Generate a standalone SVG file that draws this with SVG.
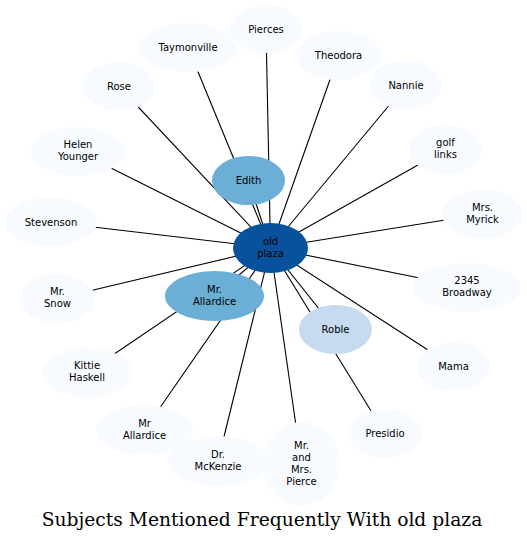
<svg xmlns="http://www.w3.org/2000/svg" width="527" height="542" viewBox="0 0 527 542">
<style>
.e{stroke:#000;stroke-width:1.1;fill:none}
.n{fill:#f7fbff}
.l{font-family:"DejaVu Sans",sans-serif;font-size:10px;fill:#000;text-anchor:middle}
.t{font-family:"DejaVu Serif",serif;font-size:18.7px;fill:#000;text-anchor:middle}
</style>
<rect width="527" height="542" fill="#fff"/>
<g id="edges">
<line class="e" x1="270.5" y1="248" x2="266" y2="29"/>
<line class="e" x1="270.5" y1="248" x2="188" y2="47.5"/>
<line class="e" x1="270.5" y1="248" x2="338.5" y2="55.5"/>
<line class="e" x1="270.5" y1="248" x2="119" y2="86.5"/>
<line class="e" x1="270.5" y1="248" x2="406" y2="85"/>
<line class="e" x1="270.5" y1="248" x2="78" y2="151.5"/>
<line class="e" x1="270.5" y1="248" x2="445.5" y2="149.5"/>
<line class="e" x1="270.5" y1="248" x2="51" y2="222"/>
<line class="e" x1="270.5" y1="248" x2="482.5" y2="214"/>
<line class="e" x1="270.5" y1="248" x2="57.5" y2="298.5"/>
<line class="e" x1="270.5" y1="248" x2="467" y2="287.5"/>
<line class="e" x1="270.5" y1="248" x2="87" y2="372.5"/>
<line class="e" x1="270.5" y1="248" x2="453.5" y2="366.5"/>
<line class="e" x1="270.5" y1="248" x2="144.5" y2="430"/>
<line class="e" x1="270.5" y1="248" x2="385" y2="433.5"/>
<line class="e" x1="270.5" y1="248" x2="218" y2="461"/>
<line class="e" x1="270.5" y1="248" x2="301.5" y2="464"/>
<line class="e" x1="270.5" y1="248" x2="248.5" y2="180.5"/>
<line class="e" x1="270.5" y1="248" x2="214.5" y2="296"/>
<line class="e" x1="270.5" y1="248" x2="335.5" y2="329.5"/>
</g>
<g id="n-pierces"><ellipse class="n" cx="266" cy="29" rx="36" ry="24"/><text class="l" x="266" y="32.5">Pierces</text></g>
<g id="n-taymonville"><ellipse class="n" cx="188" cy="47.5" rx="49" ry="24.5"/><text class="l" x="188" y="51">Taymonville</text></g>
<g id="n-theodora"><ellipse class="n" cx="338.5" cy="55.5" rx="42.5" ry="24.5"/><text class="l" x="338.5" y="59">Theodora</text></g>
<g id="n-rose"><ellipse class="n" cx="119" cy="86.5" rx="36" ry="24.5"/><text class="l" x="119" y="90">Rose</text></g>
<g id="n-nannie"><ellipse class="n" cx="406" cy="85" rx="36" ry="24.5"/><text class="l" x="406" y="88.5">Nannie</text></g>
<g id="n-helen"><ellipse class="n" cx="78" cy="151.5" rx="47" ry="24.5"/><text class="l" x="78" y="148">Helen</text><text class="l" x="78" y="160">Younger</text></g>
<g id="n-golf"><ellipse class="n" cx="445.5" cy="149.5" rx="36.5" ry="24.5"/><text class="l" x="445.5" y="146">golf</text><text class="l" x="445.5" y="158">links</text></g>
<g id="n-stevenson"><ellipse class="n" cx="51" cy="222" rx="46" ry="24.5"/><text class="l" x="51" y="225.5">Stevenson</text></g>
<g id="n-myrick"><ellipse class="n" cx="482.5" cy="214" rx="40.5" ry="24.5"/><text class="l" x="482.5" y="210.5">Mrs.</text><text class="l" x="482.5" y="222.5">Myrick</text></g>
<g id="n-snow"><ellipse class="n" cx="57.5" cy="298.5" rx="37.5" ry="24.5"/><text class="l" x="57.5" y="295">Mr.</text><text class="l" x="57.5" y="307">Snow</text></g>
<g id="n-broadway"><ellipse class="n" cx="467" cy="287.5" rx="54" ry="24.5"/><text class="l" x="467" y="284">2345</text><text class="l" x="467" y="296">Broadway</text></g>
<g id="n-kittie"><ellipse class="n" cx="87" cy="372.5" rx="45" ry="24.5"/><text class="l" x="87" y="369">Kittie</text><text class="l" x="87" y="381">Haskell</text></g>
<g id="n-mama"><ellipse class="n" cx="453.5" cy="366.5" rx="36.5" ry="24.5"/><text class="l" x="453.5" y="370">Mama</text></g>
<g id="n-mrallardice2"><ellipse class="n" cx="144.5" cy="430" rx="48.5" ry="25"/><text class="l" x="144.5" y="426.5">Mr</text><text class="l" x="144.5" y="438.5">Allardice</text></g>
<g id="n-presidio"><ellipse class="n" cx="385" cy="433.5" rx="37" ry="24.5"/><text class="l" x="385" y="437">Presidio</text></g>
<g id="n-mckenzie"><ellipse class="n" cx="218" cy="461" rx="50" ry="25"/><text class="l" x="218" y="457.5">Dr.</text><text class="l" x="218" y="469.5">McKenzie</text></g>
<g id="n-mrmrspierce"><ellipse class="n" cx="301.5" cy="464" rx="38.5" ry="42"/><text class="l" x="301.5" y="448.5">Mr.</text><text class="l" x="301.5" y="460.5">and</text><text class="l" x="301.5" y="472.5">Mrs.</text><text class="l" x="301.5" y="484.5">Pierce</text></g>
<g id="n-edith"><ellipse cx="248.5" cy="180.5" rx="36.5" ry="24.5" fill="#6baed6"/><text class="l" x="248.5" y="184">Edith</text></g>
<g id="n-mrallardice"><ellipse cx="214.5" cy="296" rx="49.5" ry="25" fill="#6baed6"/><text class="l" x="214.5" y="292.5">Mr.</text><text class="l" x="214.5" y="304.5">Allardice</text></g>
<g id="n-roble"><ellipse cx="335.5" cy="329.5" rx="36.5" ry="24.5" fill="#c6dbef"/><text class="l" x="335.5" y="333">Roble</text></g>
<g id="n-oldplaza"><ellipse cx="270.5" cy="248" rx="37.5" ry="25" fill="#08519c"/><text class="l" x="270.5" y="244.5">old</text><text class="l" x="270.5" y="256.5">plaza</text></g>
<text class="t" x="262" y="526">Subjects Mentioned Frequently With old plaza</text>
</svg>
